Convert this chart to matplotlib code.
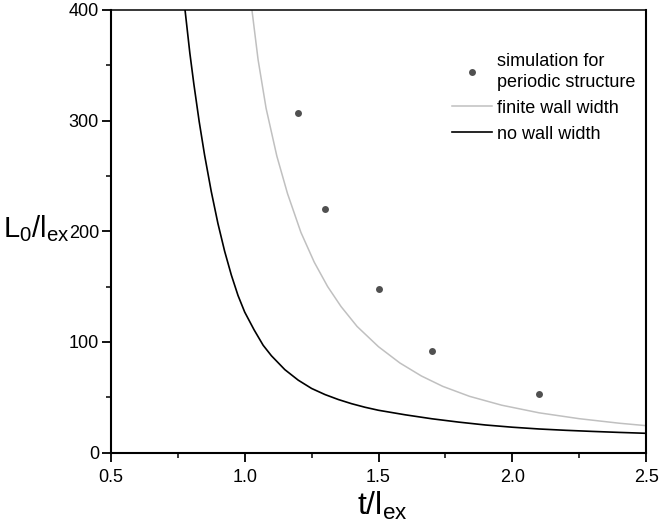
import matplotlib
matplotlib.use("Agg")
import matplotlib.pyplot as plt
from matplotlib.ticker import MultipleLocator, FormatStrFormatter

plt.rcParams['font.family'] = ['Liberation Sans', 'DejaVu Sans']
plt.rcParams['mathtext.fontset'] = 'custom'
plt.rcParams['mathtext.rm'] = 'Liberation Sans'

# simulation points (periodic structure)
sim_t = [1.2, 1.3, 1.5, 1.7, 2.1]
sim_L = [307, 220, 148, 92, 53]

# finite wall width curve
fin_t = [1.027, 1.05, 1.08, 1.12, 1.16, 1.21, 1.26, 1.31, 1.36, 1.42, 1.5,
         1.58, 1.66, 1.74, 1.84, 1.96, 2.1, 2.25, 2.4, 2.5]
fin_L = [400, 355, 311, 268, 234, 199, 172, 150, 132, 114, 95.7,
         81, 69.3, 59.9, 50.9, 42.9, 36, 30.7, 26.6, 24.4]

# no wall width curve
no_t = [0.777, 0.795, 0.81, 0.83, 0.85, 0.875, 0.9, 0.925, 0.95, 0.975, 1.0,
        1.035, 1.069, 1.1, 1.15, 1.2, 1.25, 1.3, 1.35, 1.4, 1.45, 1.5,
        1.6, 1.7, 1.8, 1.9, 2.0, 2.1, 2.2, 2.3, 2.4, 2.5]
no_L = [400, 361, 333, 299, 269, 236, 207, 182, 160.5, 142, 127,
        111, 97, 87.5, 75, 65.5, 58, 52.5, 48, 44.2, 41, 38.3,
        34.2, 30.6, 27.6, 25.0, 23.0, 21.4, 20.2, 19.2, 18.3, 17.5]

fig = plt.figure(figsize=(6.6, 5.31), dpi=100)
ax = fig.add_axes([0.168, 0.1475, 0.811, 0.834])

ax.plot(sim_t, sim_L, 'o', color='#505050', ms=5, mec='none',
        label='simulation for\nperiodic structure')
ax.plot(fin_t, fin_L, '-', color='#c0c0c0', lw=1.1, label='finite wall width')
ax.plot(no_t, no_L, '-', color='black', lw=1.2, label='no wall width')

ax.set_xlim(0.5, 2.5)
ax.set_ylim(0, 400)
ax.xaxis.set_major_locator(MultipleLocator(0.5))
ax.xaxis.set_minor_locator(MultipleLocator(0.25))
ax.yaxis.set_major_locator(MultipleLocator(100))
ax.yaxis.set_minor_locator(MultipleLocator(50))
ax.xaxis.set_major_formatter(FormatStrFormatter('%.1f'))
ax.tick_params(which='major', direction='out', length=6.5, width=1.3, labelsize=13,
               top=False, right=False)
ax.tick_params(axis='x', which='major', pad=5)
ax.tick_params(axis='y', which='major', pad=2)
ax.tick_params(which='minor', direction='out', length=3.5, width=1.1, top=False, right=False)
for s in ax.spines.values():
    s.set_linewidth(1.5)
ax.spines['top'].set_linewidth(1.1)

ax.set_xlabel(r'$\mathregular{t/l_{ex}}$', fontsize=23, va='top')
ax.xaxis.set_label_coords(0.508, -0.084)
ax.set_ylabel(r'$\mathregular{L_0/l_{ex}}$', fontsize=21, rotation=0, va='center', ha='center')
ax.yaxis.set_label_coords(-0.14, 0.505)

leg = ax.legend(loc='upper left', bbox_to_anchor=(0.637, 0.903), frameon=False, fontsize=13,
                handlelength=2.2, handletextpad=0.3, labelspacing=0.5, borderpad=0,
                borderaxespad=0)
for t in leg.get_texts():
    t.set_linespacing(1.3)

fig.savefig('out.png', dpi=100)
